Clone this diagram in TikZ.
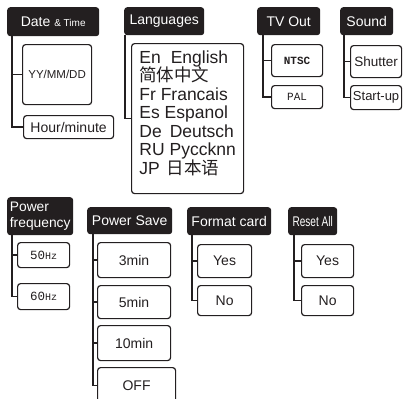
\documentclass[tikz,border=0pt]{standalone}
\usepackage{fontspec}
\usepackage{graphicx}
\setmainfont{Liberation Sans}
\setmonofont{Liberation Mono}
\newfontfamily\cjk{Noto Sans CJK SC}
\usetikzlibrary{positioning}
\definecolor{ink}{HTML}{231F20}

\begin{document}
\begin{tikzpicture}[x=1pt, y=-1pt,
    hd/.style={rectangle, rounded corners=3pt, fill=ink, text=white, anchor=north west,
      inner sep=0pt, font=\fontsize{14}{15}\selectfont},
    ch/.style={rectangle, rounded corners=3pt, draw=ink, line width=1.2pt, fill=white, text=ink,
      anchor=north west, inner sep=0pt, font=\fontsize{14}{16}\selectfont},
    link/.style={draw=ink, line width=1.3pt}]
  \useasboundingbox (0,0) rectangle (408,399);
  % top row
  \node[hd, minimum width=92pt, minimum height=29pt] (dt) at (7,7) {Date {\fontsize{10}{12}\selectfont\& Time}};
  \node[ch, minimum width=69pt, minimum height=60pt, font=\fontsize{11.5}{13}\selectfont] (ymd) at (22,44) {YY/MM/DD};
  \node[ch, minimum width=90pt, minimum height=23pt] (hm) at (23,115) {Hour/minute};
  \node[hd, minimum width=80pt, minimum height=28pt] (lang) at (124,7) {Languages};
  \node[ch, minimum width=112pt, minimum height=150pt, align=left, font=\fontsize{17.5}{18.5}\selectfont] (langs) at (131,43)
    {En\hspace{10pt}English\\ {\cjk 简体中文}\\ Fr Francais\\ Es Espanol\\ De\hspace{8pt}Deutsch\\ RU\hspace{5pt}Pyccknn\\
     JP\hspace{7pt}{\cjk 日本语}\rule[-12pt]{0pt}{0pt}};
  \node[hd, minimum width=63pt, minimum height=28pt] (tv) at (257,7) {TV Out};
  \node[ch, minimum width=51pt, minimum height=32pt, font=\fontsize{11}{13}\selectfont\ttfamily\bfseries] (ntsc) at (271,44) {NTSC};
  \node[ch, minimum width=51pt, minimum height=23pt, font=\fontsize{11}{13}\selectfont\ttfamily] (pal) at (271,85) {PAL};
  \node[hd, minimum width=53pt, minimum height=28pt] (snd) at (340,7) {Sound};
  \node[ch, minimum width=51pt, minimum height=32pt, font=\fontsize{13.5}{15}\selectfont] (shut) at (350,45) {Shutter};
  \node[ch, minimum width=51pt, minimum height=24pt, font=\fontsize{13}{15}\selectfont] (start) at (350,85) {Start-up};
  % bottom row
  \node[hd, minimum width=66pt, minimum height=38pt, align=left, inner xsep=2pt, font=\fontsize{13.8}{16}\selectfont] (pf) at (7,197) {Power\\frequency};
  \node[ch, minimum width=52pt, minimum height=25pt, font=\fontsize{12.5}{13}\selectfont\ttfamily] (f50) at (17,242) {50{\fontsize{10}{11}\selectfont Hz}};
  \node[ch, minimum width=52pt, minimum height=26pt, font=\fontsize{12.5}{13}\selectfont\ttfamily] (f60) at (17,283) {60{\fontsize{10}{11}\selectfont Hz}};
  \node[hd, minimum width=85pt, minimum height=27pt] (ps) at (87,207) {Power Save};
  \node[ch, minimum width=73pt, minimum height=35pt] (m3) at (97,242) {3min};
  \node[ch, minimum width=73pt, minimum height=33pt] (m5) at (97,285) {5min};
  \node[ch, minimum width=73pt, minimum height=35pt] (m10) at (97,325) {10min};
  \node[ch, minimum width=78pt, minimum height=36pt] (off) at (97,367) {OFF};
  \node[hd, minimum width=84pt, minimum height=28pt] (fc) at (187,207) {Format card};
  \node[ch, minimum width=54pt, minimum height=33pt] (fyes) at (197,244) {Yes};
  \node[ch, minimum width=54pt, minimum height=30pt] (fno) at (197,285) {No};
  \node[hd, minimum width=49pt, minimum height=28pt] (ra) at (288,207) {\scalebox{0.72}[1]{Reset All}};
  \node[ch, minimum width=52pt, minimum height=33pt] (ryes) at (301,244) {Yes};
  \node[ch, minimum width=52pt, minimum height=30pt] (rno) at (301,285) {No};
  % connectors
  \draw[link] ([xshift=5pt]dt.south west) |- (ymd.west);
  \draw[link] ([xshift=5pt]dt.south west) |- (hm.west);
  \draw[link] ([xshift=1pt]lang.south west) |- (langs.west);
  \draw[link] ([xshift=6pt]tv.south west) |- (ntsc.west);
  \draw[link] ([xshift=6pt]tv.south west) |- (pal.west);
  \draw[link] ([xshift=4pt]snd.south west) |- (shut.west);
  \draw[link] ([xshift=4pt]snd.south west) |- (start.west);
  \draw[link] ([xshift=5pt]pf.south west) |- (f50.west);
  \draw[link] ([xshift=5pt]pf.south west) |- (f60.west);
  \draw[link] ([xshift=6pt]ps.south west) |- (m3.west);
  \draw[link] ([xshift=6pt]ps.south west) |- (m5.west);
  \draw[link] ([xshift=6pt]ps.south west) |- (m10.west);
  \draw[link] ([xshift=6pt]ps.south west) |- (off.west);
  \draw[link] ([xshift=5pt]fc.south west) |- (fyes.west);
  \draw[link] ([xshift=5pt]fc.south west) |- (fno.west);
  \draw[link] ([xshift=6pt]ra.south west) |- (ryes.west);
  \draw[link] ([xshift=6pt]ra.south west) |- (rno.west);
\end{tikzpicture}
\end{document}
